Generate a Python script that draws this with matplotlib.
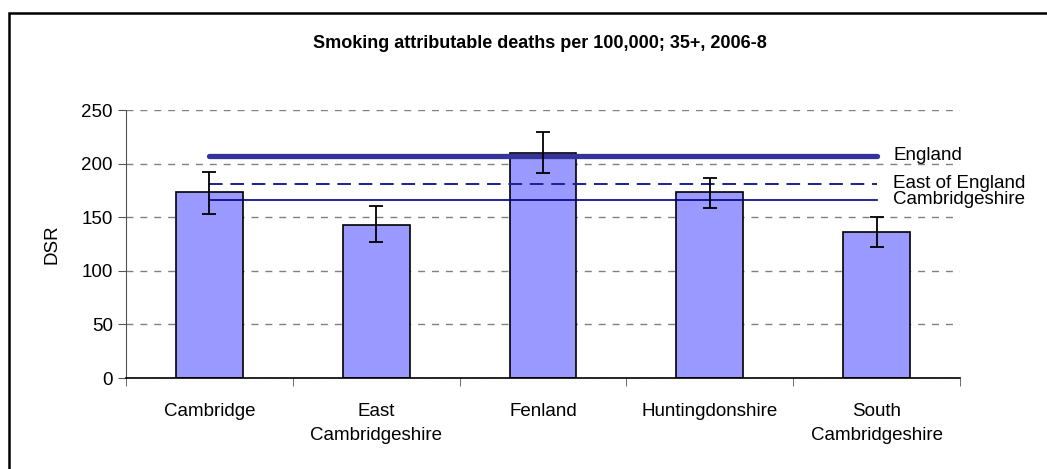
import matplotlib.pyplot as plt
from matplotlib.patches import Rectangle
import numpy as np

plt.rcParams['font.family'] = ['Liberation Sans', 'DejaVu Sans']

# data
districts = ['Cambridge', 'East\nCambridgeshire', 'Fenland', 'Huntingdonshire', 'South\nCambridgeshire']
dsr = [173.5, 143, 210, 173.5, 136]
ci_low = [153.5, 127, 191, 159, 122]
ci_high = [192.5, 160.5, 229.5, 187, 150]
ref_names = ['England', 'East of England', 'Cambridgeshire']
ref_values = [207, 181, 166]

fig = plt.figure(figsize=(10.47, 4.69), dpi=100)
ax = fig.add_axes([0.1203, 0.194, 0.7967, 0.571])

x = np.arange(len(districts))
yerr = [np.array(dsr) - np.array(ci_low), np.array(ci_high) - np.array(dsr)]
ax.bar(x, dsr, width=0.4, color='#9999FF', edgecolor='black', linewidth=1.2, zorder=2)
ax.errorbar(x, dsr, yerr=yerr, fmt='none', ecolor='black', elinewidth=1.3,
            capsize=5, capthick=1.3, zorder=4)

# reference lines
styles = [dict(color='#333399', lw=3.8, ls='-', solid_capstyle='round'),
          dict(color='#1F1F8F', lw=1.4, ls=(0, (7, 4))),
          dict(color='#000080', lw=1.2, ls='-')]
for name, val, st in zip(ref_names, ref_values, styles):
    ax.plot([x[0], x[-1]], [val, val], zorder=3, **st)
for name, val in zip(ref_names, ref_values):
    ax.text(x[-1] + 0.1, val + 1, name, fontsize=13.5, va='center', ha='left')

ax.set_xlim(-0.5, len(districts) - 0.5)
ax.set_ylim(0, 250)
ax.set_yticks(range(0, 251, 50))
ax.grid(axis='y', color='#808080', ls=(0, (5, 5)), lw=1, zorder=0)
ax.set_axisbelow(True)

ax.set_xticks(x)
ax.set_xticklabels(districts, fontsize=13.5, va='top', linespacing=1.55)
ax.tick_params(axis='x', length=0, pad=18)
ax.set_xticks(np.arange(-0.5, len(districts)), minor=True)
ax.tick_params(axis='x', which='minor', length=6, color='#555555')
ax.tick_params(axis='y', labelsize=13.5, length=6, color='#555555')

for s in ['top', 'right']:
    ax.spines[s].set_visible(False)
ax.spines['left'].set_color('#555555')
ax.spines['bottom'].set_color('black')
ax.spines['bottom'].set_linewidth(1.2)

ax.set_ylabel('DSR', fontsize=13.5, labelpad=15)
fig.text(0.516, 1 - 43 / 469, 'Smoking attributable deaths per 100,000; 35+, 2006-8',
         fontsize=13, fontweight='bold', ha='center', va='center')

# outer frame (cut off at right and bottom)
fig.patches.append(Rectangle((8.5 / 1047, -0.2), 1.2, 1.2 - 13.5 / 469,
                             transform=fig.transFigure, fill=False,
                             edgecolor='black', lw=1.8))

fig.savefig('out.png', dpi=100)
